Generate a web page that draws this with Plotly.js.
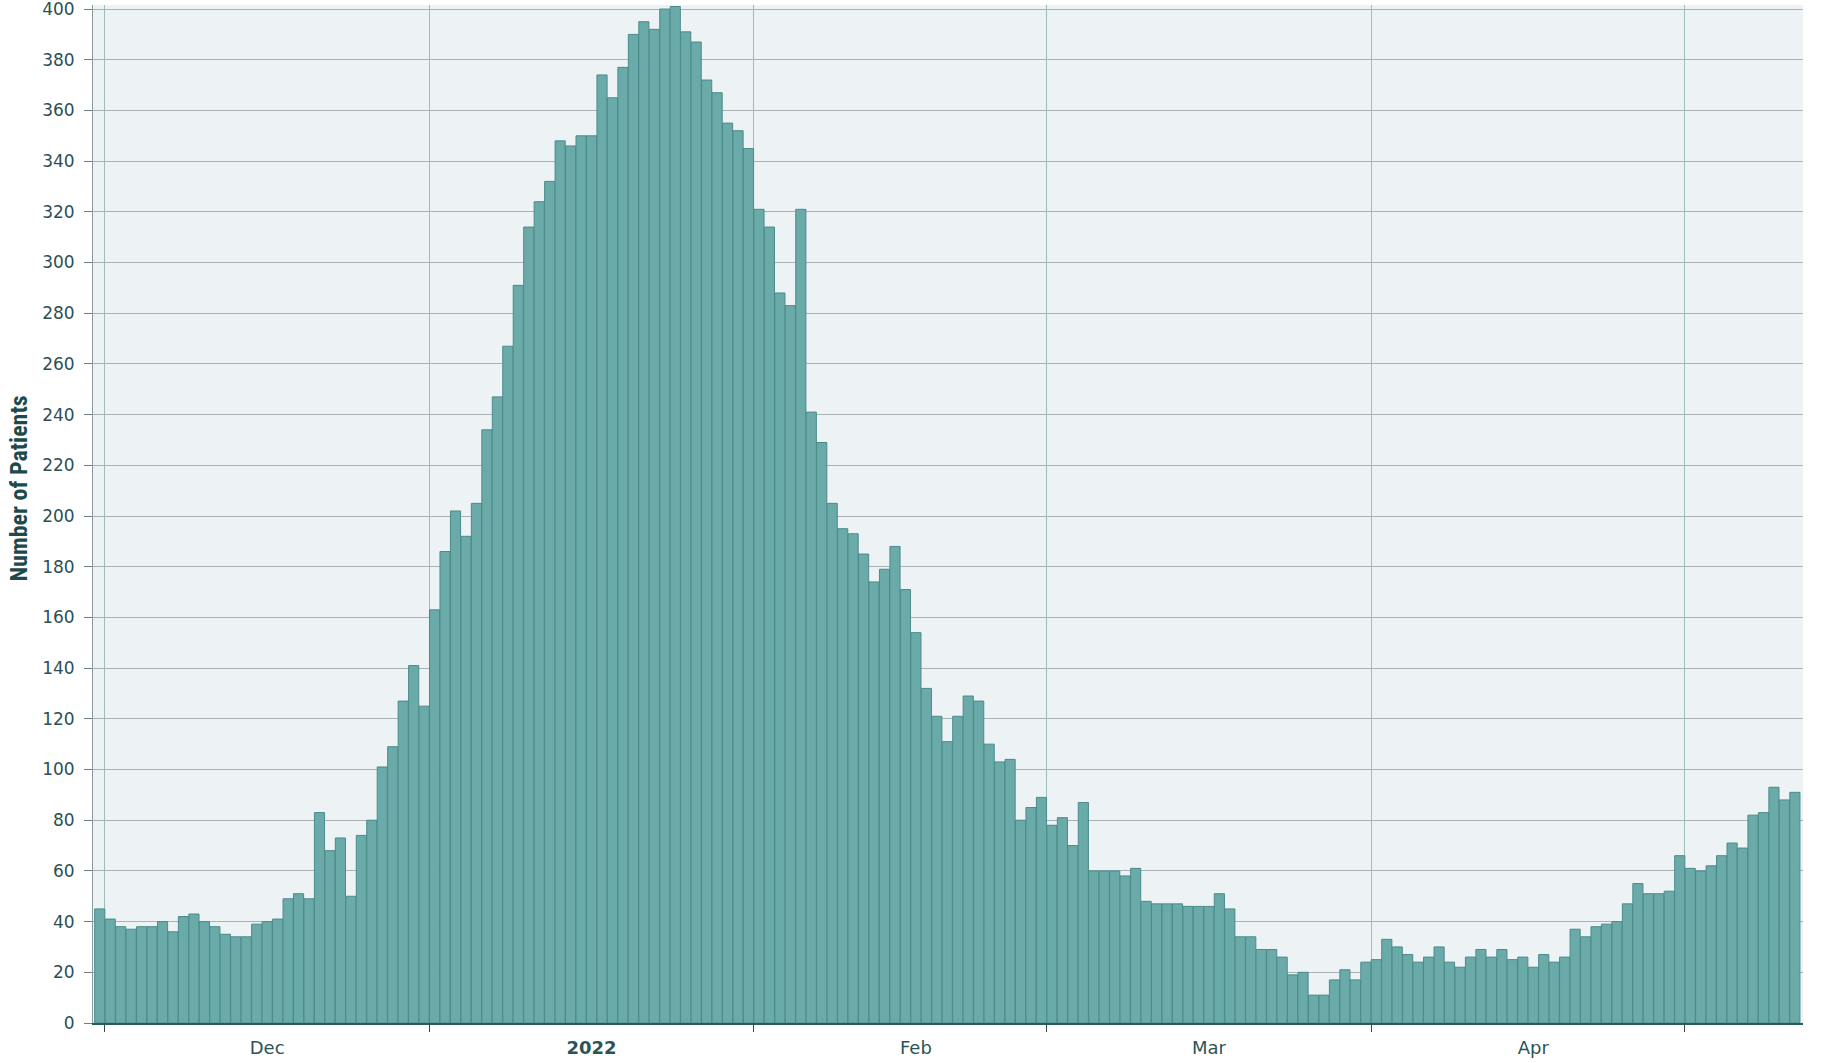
<!DOCTYPE html>
<html>
<head>
<meta charset="utf-8">
<script src="https://cdn.plot.ly/plotly-3.0.1.min.js"></script>
<style>
  html, body { margin: 0; padding: 0; background: #ffffff; }
  #chart { width: 1827px; height: 1063px; }
</style>
</head>
<body>
<div id="chart"></div>
<script>
// Daily number of patients
const nov2021 = [45]; // Nov 30
const dec2021 = [41, 38, 37, 38, 38, 40, 36, 42, 43, 40,
                 38, 35, 34, 34, 39, 40, 41, 49, 51, 49,
                 83, 68, 73, 50, 74, 80, 101, 109, 127, 141,
                 125];
const jan2022 = [163, 186, 202, 192, 205, 234, 247, 267, 291, 314,
                 324, 332, 348, 346, 350, 350, 374, 365, 377, 390,
                 395, 392, 400, 401, 391, 387, 372, 367, 355, 352,
                 345];
const feb2022 = [321, 314, 288, 283, 321, 241, 229, 205, 195, 193,
                 185, 174, 179, 188, 171, 154, 132, 121, 111, 121,
                 129, 127, 110, 103, 104, 80, 85, 89];
const mar2022 = [78, 81, 70, 87, 60, 60, 60, 58, 61, 48,
                 47, 47, 47, 46, 46, 46, 51, 45, 34, 34,
                 29, 29, 26, 19, 20, 11, 11, 17, 21, 17,
                 24];
const apr2022 = [25, 33, 30, 27, 24, 26, 30, 24, 22, 26,
                 29, 26, 29, 25, 26, 22, 27, 24, 26, 37,
                 34, 38, 39, 40, 47, 55, 51, 51, 52, 66];
const may2022 = [61, 60, 62, 66, 71, 69, 82, 83, 93, 88, 91];

// month blocks: [year-month, first day, values]
const monthBlocks = [
  ['2021-11', 30, nov2021],
  ['2021-12', 1, dec2021],
  ['2022-01', 1, jan2022],
  ['2022-02', 1, feb2022],
  ['2022-03', 1, mar2022],
  ['2022-04', 1, apr2022],
  ['2022-05', 1, may2022]
];

// month tick labels
const tickLabels = ['Dec', '<b>2022</b>', 'Feb', 'Mar', 'Apr'];
const tickPositions = ['2021-12-16 12:00', '2022-01-16 12:00', '2022-02-16 12:00', '2022-03-16 12:00', '2022-04-16 12:00'];

const xDates = [];
const yVals = [];
monthBlocks.forEach(([ym, d0, vals]) => {
  vals.forEach((v, i) => {
    xDates.push(ym + '-' + String(d0 + i).padStart(2, '0'));
    yVals.push(v);
  });
});

const trace = {
  type: 'bar',
  x: xDates,
  y: yVals,
  xperiod: 86400000,
  xperiodalignment: 'middle',
  marker: {
    color: '#6aaaa9',
    line: { color: '#4a8b8a', width: 1 }
  },
  hoverinfo: 'skip',
  showlegend: false
};

const layout = {
  width: 1827,
  height: 1063,
  margin: { l: 93, r: 24, t: 5, b: 40 },
  paper_bgcolor: '#ffffff',
  plot_bgcolor: '#edf3f5',
  bargap: 0.03,
  xaxis: {
    type: 'date',
    range: ['2021-11-29 20:30', '2022-05-12 06:40'],
    tickmode: 'array',
    tickvals: tickPositions,
    ticktext: tickLabels,
    ticks: '',
    showgrid: false,
    showline: true,
    linecolor: '#2a5a5c',
    linewidth: 2,
    ticklabelstandoff: 7,
    tickfont: { family: 'DejaVu Sans, sans-serif', size: 18, color: '#2c5456' },
    minor: {
      tick0: '2021-12-01',
      dtick: 'M1',
      ticks: 'outside',
      ticklen: 7,
      tickwidth: 1,
      tickcolor: '#2a4a4c',
      showgrid: true,
      gridcolor: '#9dbcbb',
      gridwidth: 1
    },
    fixedrange: true
  },
  yaxis: {
    range: [0, 401.6],
    tickmode: 'linear',
    tick0: 0,
    dtick: 20,
    showgrid: true,
    gridcolor: '#a9b2b5',
    gridwidth: 1,
    zeroline: false,
    showline: true,
    linecolor: '#8c9a9c',
    linewidth: 1,
    ticks: 'outside',
    ticklen: 8,
    tickcolor: '#6f7f81',
    ticklabelstandoff: 6,
    ticklabeloverflow: 'allow',
    tickfont: { family: 'DejaVu Sans, sans-serif', size: 17, color: '#2d4f52' },
    fixedrange: true
  },
  annotations: [{
    text: '<b>Number of Patients</b>',
    xref: 'paper', yref: 'paper',
    x: -0.0435, y: 0.5246,
    xanchor: 'center', yanchor: 'middle',
    textangle: -90,
    showarrow: false,
    font: { family: 'Liberation Sans Narrow, Roboto Condensed, DejaVu Sans Condensed, Roboto, sans-serif', size: 24, color: '#1d4a4c' }
  }]
};

Plotly.newPlot('chart', [trace], layout, { staticPlot: true, displayModeBar: false });
</script>
</body>
</html>
